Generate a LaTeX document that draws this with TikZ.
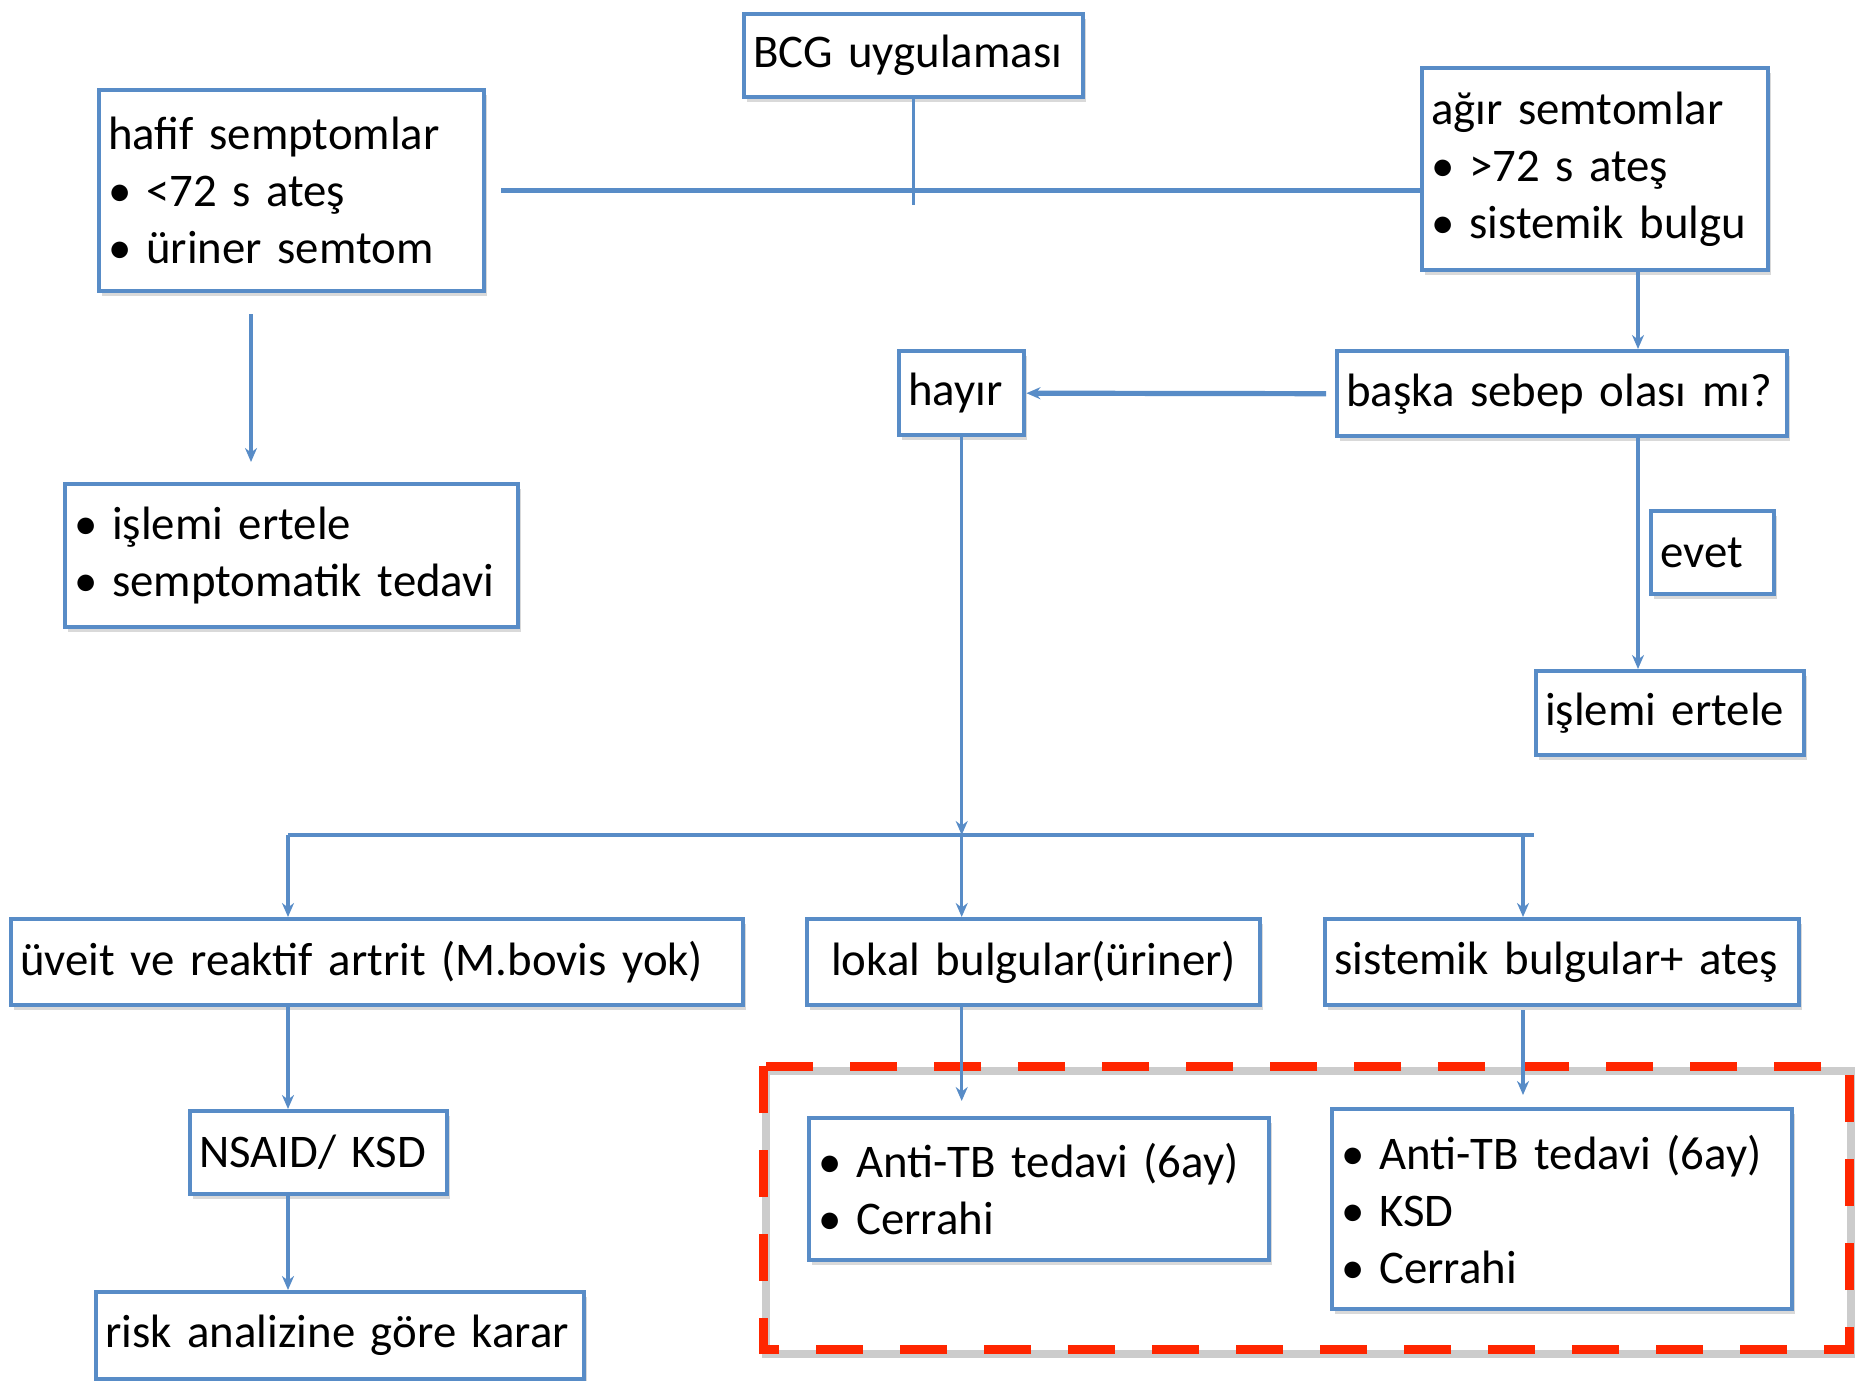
\documentclass[tikz,border=0pt]{standalone}
\usepackage{fontspec}
\setmainfont{Carlito}
\usetikzlibrary{arrows.meta}
\usetikzlibrary{calc}
\usetikzlibrary{shadows}
\definecolor{boxblue}{RGB}{88,140,199}
\definecolor{alarmred}{RGB}{255,38,0}
\newcommand{\bul}{\makebox[19pt][l]{\textbullet}}

\begin{document}
\begin{tikzpicture}
[x=0.5pt,y=-0.5pt,>={Stealth[length=7pt,width=6pt]},%
  every node/.style={font=\fontsize{23.4}{28.5}\selectfont},
  box/.style={draw=boxblue,line width=2.2pt,fill=white,anchor=north west,
    align=left,inner xsep=4.5pt,inner ysep=0pt,
    drop shadow={shadow xshift=1.5pt,shadow yshift=-2.5pt,opacity=.3}},
  conn/.style={draw=boxblue,line width=1.6pt},
  thick conn/.style={draw=boxblue,line width=2.6pt}]
\useasboundingbox (0,0) rectangle (1856,1380);
%% dashed frame round the treatments
\draw[gray!40,line width=4pt] (766,1071) rectangle (1851,1354);
\draw[alarmred,line width=4.5pt,dash pattern=on 23.5pt off 18.5pt] (763,1066) rectangle (1849,1349);
%% boxes
\node[box,text width=160.5pt,minimum height=41.5pt] (bcg) at (742,12) {BCG uygulaması};
\node[box,text width=183.5pt,minimum height=100.5pt] (hafif) at (97,88) {hafif semptomlar\\\bul<72 s ateş\\\bul üriner semtom};
\node[box,text width=164pt,minimum height=101pt] (agir) at (1420,66) {ağır semtomlar\\\bul>72 s ateş\\\bul sistemik bulgu};
\node[box,text width=217.5pt,minimum height=71.5pt] (ertele1) at (63,482) {\bul işlemi ertele\\\bul semptomatik tedavi};
\node[box,text width=53.5pt,minimum height=42pt] (hayir) at (897,349) {hayır};
\node[box,text width=216pt,minimum height=42.5pt] (baska) at (1335,349) {başka sebep olası mı?};
\node[box,text width=52.5pt,minimum height=41.5pt] (evet) at (1649,509) {evet};
\node[box,text width=125pt,minimum height=42pt] (ertele2) at (1534,669) {işlemi ertele};
\node[box,text width=357pt,minimum height=43pt] (uveit) at (9,917) {üveit ve reaktif artrit (M.bovis yok)};
\node[box,text width=217.5pt,minimum height=43pt,align=center] (lokal) at (805,917) {lokal bulgular(üriner)};
\node[box,text width=228pt,minimum height=43pt] (sistemik) at (1323,917) {sistemik bulgular+ ateş};
\node[box,text width=119.5pt,minimum height=41.5pt] (nsaid) at (188,1109) {NSAID/ KSD};
\node[box,text width=235pt,minimum height=43.5pt] (risk) at (94,1290) {risk analizine göre karar};
\node[box,text width=221pt,minimum height=71pt] (tb1) at (807,1116) {\bul Anti-TB tedavi (6ay)\\\bul Cerrahi};
\node[box,text width=221pt,minimum height=100pt] (tb2) at (1330,1107) {\bul Anti-TB tedavi (6ay)\\\bul KSD\\\bul Cerrahi};
%% connectors
\coordinate (fork) at (hayir.south |- 0,835);
\coordinate (uv) at ($(uveit.north west)+(279,0)$);
\coordinate (si) at ($(sistemik.north west)+(200,0)$);
\coordinate (bs) at ($(baska.north west)+(303,0)$);
\draw[conn] (bcg.south) -- ++(0,106);
\draw[thick conn] ($(hafif.east)+(15,0)$) -- (agir.west |- hafif.east);
\draw[conn,->] ($(hafif.south west)+(154,21)$) -- ($(ertele1.north west)+(188,-20)$);
\draw[conn,->] (agir.south -| bs) -- (bs);
\draw[thick conn,->] ($(baska.west)+(-9,0)$) -- (hayir.east);
\draw[conn,->] (baska.south -| bs) -- (ertele2.north -| bs);
\draw[conn,->] (hayir.south) -- (fork);
\draw[conn] (uv |- fork) -- ($(si |- fork)+(11,0)$);
\draw[conn,->] (uv |- fork) -- (uv);
\draw[conn,->] (fork) -- (lokal.north -| fork);
\draw[conn,->] (si |- fork) -- (si);
\draw[conn,->] (uveit.south -| uv) -- (nsaid.north -| uv);
\draw[conn,->] (nsaid.south -| uv) -- (risk.north -| uv);
\draw[conn,->] (lokal.south -| fork) -- ($(tb1.north -| fork)+(0,-15)$);
\draw[conn,->] ($(sistemik.south -| si)+(0,3)$) -- ($(tb2.north -| si)+(0,-12)$);
\end{tikzpicture}
\end{document}
